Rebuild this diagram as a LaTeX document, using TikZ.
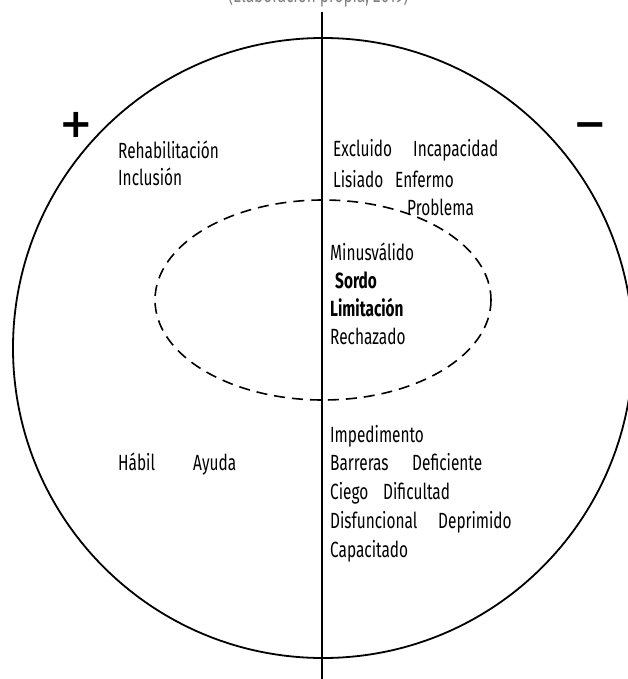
\documentclass[tikz,border=0pt]{standalone}
\usepackage{fontspec}
\setmainfont{Fira Sans}[FakeStretch=0.7]
\newfontfamily\symfont{DejaVu Sans}
\begin{document}
\begin{tikzpicture}[x=1pt,y=-1pt,
  word/.style={anchor=base west,inner sep=0pt,font=\fontsize{22}{24}\selectfont},
  bword/.style={word,font=\fontsize{22}{24}\selectfont\bfseries},
  sign/.style={inner sep=0pt,font=\symfont\bfseries\fontsize{40}{40}\selectfont}]
\useasboundingbox (0,0) rectangle (628,679);
\begin{scope}
\clip (0,0) rectangle (628,679);
\node[word,text=gray] (src) at (228,3) {(Elaboración propia, 2019)};
\draw[line width=1.8pt] (323,348) circle [radius=310];
\draw[line width=1.6pt,dash pattern=on 11pt off 7pt] (323,300) ellipse [x radius=168, y radius=100];
\coordinate (top) at (322,12);
\coordinate (bot) at (322,679);
\draw[line width=1.8pt] (top) -- (bot);
\end{scope}
\node[sign] (plus) at (76,125) {+};
\node[sign] (minus) at (590,130) {\char"2212};
\node[word] (reh) at (118,158) {Rehabilitación};
\node[word] (inc) at (118,185) {Inclusión};
\node[word] (exc) at (333,157) {Excluido};
\node[word] (incap) at (413,157) {Incapacidad};
\node[word] (lis) at (333,187) {Lisiado};
\node[word] (enf) at (395,187) {Enfermo};
\node[word] (prob) at (407,215) {Problema};
\node[word] (minu) at (330,260) {Minusválido};
\node[bword] (sordo) at (335,288) {Sordo};
\node[bword] (lim) at (330,316) {Limitación};
\node[word] (rech) at (330,344) {Rechazado};
\node[word] (hab) at (118,470) {Hábil};
\node[word] (ayu) at (193,470) {Ayuda};
\node[word] (imp) at (330,442) {Impedimento};
\node[word] (bar) at (330,470) {Barreras};
\node[word] (def) at (412,470) {Deficiente};
\node[word] (cie) at (330,499) {Ciego};
\node[word] (dif) at (383,499) {Dificultad};
\node[word] (dis) at (330,528) {Disfuncional};
\node[word] (dep) at (438,528) {Deprimido};
\node[word] (cap) at (330,557) {Capacitado};
\end{tikzpicture}
\end{document}
